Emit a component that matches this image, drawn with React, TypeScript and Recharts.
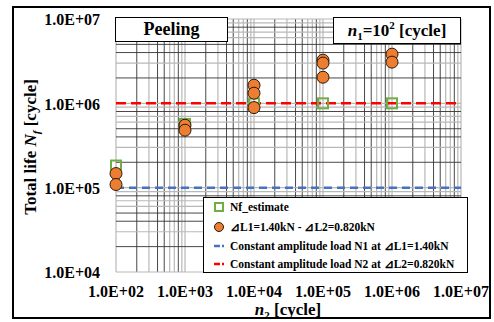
import React from 'react';
import { ScatterChart, Scatter, XAxis, YAxis, ReferenceLine } from 'recharts';

const xTicks = [1e2, 1e3, 1e4, 1e5, 1e6, 1e7];
const yTicks = [1e4, 1e5, 1e6, 1e7];
const xDecades = [1e2, 1e3, 1e4, 1e5, 1e6];
const yDecades = [1e4, 1e5, 1e6];
const gridMultipliers = [1, 2, 3, 4, 5, 6, 7, 8, 9];
const darkMultipliers = [2, 4, 5, 8];

const nfEstimateN2 = [1e2, 1e3, 1e4, 1e5, 1e6];
const nfEstimateNf = [1.83e5, 5.7e5, 1.0e6, 1.0e6, 1.0e6];

const testN2 = [1e2, 1e2, 1e3, 1e3, 1e4, 1e4, 1e4, 1e5, 1e5, 1e5, 1e6, 1e6];
const testNf = [1.47e5, 1.09e5, 5.5e5, 4.8e5, 1.64e6, 1.32e6, 8.9e5, 3.25e6, 3.0e6, 2.04e6, 3.83e6, 3.08e6];

const constN1 = 1e5;
const constN2 = 1e6;

const legendLabels = [
  'Nf_estimate',
  '⊿L1=1.40kN - ⊿L2=0.820kN',
  'Constant amplitude load N1 at ⊿L1=1.40kN',
  'Constant amplitude load N2 at ⊿L2=0.820kN',
];

const FONT = '"Liberation Serif", "Times New Roman", serif';

const fmt = (v: number) => `1.0E+${String(Math.round(Math.log10(v))).padStart(2, '0')}`;

const estData = nfEstimateN2.map((x, i) => ({ x, y: nfEstimateNf[i] }));
const testData = testN2.map((x, i) => ({ x, y: testNf[i] }));

const buildGrid = (decades: number[], last: number) => [
  ...decades.flatMap((d) => gridMultipliers.map((m) => ({ v: d * m, dark: darkMultipliers.includes(m) }))),
  { v: last, dark: false },
];
const xGrid = buildGrid(xDecades, 1e7);
const yGrid = buildGrid(yDecades, 1e7);

const XTick = (props: any) => {
  const { x, y, payload } = props;
  return (
    <text x={x} y={y} dy="0.71em" textAnchor="middle" fontFamily={FONT} fontWeight="bold" fontSize={16} fill="#000">
      {fmt(payload.value)}
    </text>
  );
};
const YTick = (props: any) => {
  const { x, y, payload } = props;
  return (
    <text x={x} y={y} dy="0.4em" textAnchor="end" fontFamily={FONT} fontWeight="bold" fontSize={16} fill="#000">
      {fmt(payload.value)}
    </text>
  );
};

const SquareShape = (props: any) => {
  const { cx, cy } = props;
  return <rect x={cx - 5} y={cy - 5} width={10} height={10} fill="none" stroke="#70AD47" strokeWidth={2} />;
};
const CircleShape = (props: any) => {
  const { cx, cy } = props;
  return <circle cx={cx} cy={cy} r={6} fill="#ED7D31" stroke="#2a1a0a" strokeWidth={1} />;
};

export default function App() {
  return (
    <div style={{ position: 'absolute', left: 0, top: 0, width: 494, height: 322, background: '#fff', fontFamily: FONT }}>
      <div
        style={{
          position: 'absolute', left: 12, top: 6, width: 479, height: 313,
          border: '2.5px solid #000', boxSizing: 'border-box',
        }}
      />
      <ScatterChart width={494} height={322} margin={{ top: 19, right: 33, bottom: 0, left: 0 }}>
        <XAxis
          dataKey="x" type="number" scale="log" domain={[1e2, 1e7]} ticks={xTicks}
          axisLine={false} tickLine={false} tickSize={6} tickMargin={8}
          height={50} tick={<XTick />} interval={0}
        />
        <YAxis
          dataKey="y" type="number" scale="log" domain={[1e4, 1e7]} ticks={yTicks}
          axisLine={false} tickLine={false} tickSize={6} tickMargin={10}
          width={116} tick={<YTick />} interval={0}
        />
        {xGrid.map((g, i) => (
          <ReferenceLine key={'xg' + i} x={g.v} stroke={g.dark ? '#333' : '#b8b8b8'} strokeWidth={g.dark ? 0.9 : 1.2} />
        ))}
        {yGrid.map((g, i) => (
          <ReferenceLine key={'yg' + i} y={g.v} stroke={g.dark ? '#333' : '#b8b8b8'} strokeWidth={g.dark ? 0.9 : 1.2} />
        ))}
        <ReferenceLine y={constN1} stroke="#4472C4" strokeWidth={2.5} strokeDasharray="8 5" />
        <ReferenceLine y={constN2} stroke="#FF0000" strokeWidth={2.5} strokeDasharray="10 5" />
        <Scatter data={estData} shape={<SquareShape />} isAnimationActive={false} />
        <Scatter data={testData} shape={<CircleShape />} isAnimationActive={false} />
      </ScatterChart>

      {/* Peeling box */}
      <div
        style={{
          position: 'absolute', left: 115, top: 17, width: 113, height: 25, boxSizing: 'border-box',
          border: '1.5px solid #000', background: '#fff', display: 'flex', alignItems: 'center',
          justifyContent: 'center', fontWeight: 'bold', fontSize: 18,
        }}
      >
        Peeling
      </div>
      {/* n1 box */}
      <div
        style={{
          position: 'absolute', left: 333, top: 17, width: 128, height: 27, boxSizing: 'border-box',
          border: '1.5px solid #000', background: '#fff', display: 'flex', alignItems: 'center',
          justifyContent: 'center', fontWeight: 'bold', fontSize: 17, whiteSpace: 'nowrap', lineHeight: 1,
        }}
      >
        <span>
          <i>n</i><sub style={{ fontSize: 11, lineHeight: 0 }}>1</sub>=10<sup style={{ fontSize: 11, lineHeight: 0 }}>2</sup> [cycle]
        </span>
      </div>

      {/* Y axis title */}
      <div
        style={{
          position: 'absolute', left: 30, top: 147, transform: 'translate(-50%, -50%) rotate(-90deg)',
          whiteSpace: 'nowrap', fontWeight: 'bold', fontSize: 17, lineHeight: 1,
        }}
      >
        Total life <i>N</i><sub style={{ fontSize: 11, lineHeight: 0 }}><i>f</i></sub> [cycle]
      </div>
      {/* X axis title */}
      <div
        style={{
          position: 'absolute', left: 288, top: 309, transform: 'translate(-50%, -50%)',
          whiteSpace: 'nowrap', fontWeight: 'bold', fontSize: 17, lineHeight: 1,
        }}
      >
        <i>n</i><sub style={{ fontSize: 11, lineHeight: 0 }}>2</sub> [cycle]
      </div>

      {/* Legend */}
      <div
        style={{
          position: 'absolute', left: 203, top: 197, width: 265, height: 76, boxSizing: 'border-box',
          border: '1.5px solid #000', background: '#fff',
        }}
      >
        {legendLabels.map((label, i) => {
          const top = [9, 29, 48, 66][i];
          return (
            <div key={i} style={{ position: 'absolute', left: 0, top: top - 8, height: 16, width: 262 }}>
              <svg width={24} height={16} style={{ position: 'absolute', left: 4, top: 0 }}>
                {i === 0 && <rect x={7} y={4} width={8} height={8} fill="none" stroke="#70AD47" strokeWidth={2} />}
                {i === 1 && <circle cx={11} cy={8} r={4.5} fill="#ED7D31" stroke="#2a1a0a" strokeWidth={1} />}
                {i === 2 && (
                  <g stroke="#4472C4" strokeWidth={2.5}>
                    <line x1={6} y1={8} x2={12} y2={8} />
                    <line x1={14} y1={8} x2={16} y2={8} />
                  </g>
                )}
                {i === 3 && (
                  <g stroke="#FF0000" strokeWidth={2.5}>
                    <line x1={6} y1={8} x2={12} y2={8} />
                    <line x1={14} y1={8} x2={16} y2={8} />
                  </g>
                )}
              </svg>
              <div
                style={{
                  position: 'absolute', left: 26, top: 0, lineHeight: '16px', fontSize: 11.5,
                  fontWeight: 'bold', whiteSpace: 'nowrap',
                }}
              >
                {label}
              </div>
            </div>
          );
        })}
      </div>
    </div>
  );
}
